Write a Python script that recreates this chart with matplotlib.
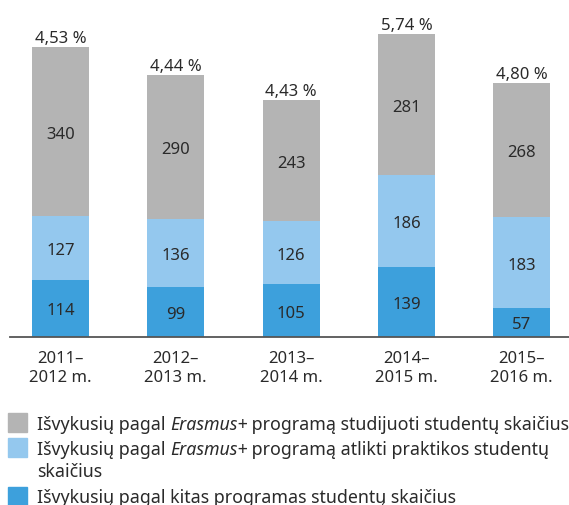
import matplotlib
matplotlib.use("Agg")
import matplotlib.pyplot as plt
from matplotlib.patches import Rectangle
import numpy as np

plt.rcParams['font.family'] = ['Noto Sans', 'DejaVu Sans']

categories = ["2011–\n2012 m.", "2012–\n2013 m.", "2013–\n2014 m.", "2014–\n2015 m.", "2015–\n2016 m."]
other_programs = [114, 99, 105, 139, 57]
erasmus_practice = [127, 136, 126, 186, 183]
erasmus_study = [340, 290, 243, 281, 268]
share_labels = ["4,53 %", "4,44 %", "4,43 %", "5,74 %", "4,80 %"]

legend_rows = [
    [("Išvykusių pagal ", "normal"), ("Erasmus+", "italic"), (" programą studijuoti studentų skaičius", "normal")],
    [("Išvykusių pagal ", "normal"), ("Erasmus+", "italic"), (" programą atlikti praktikos studentų", "normal")],
    [("skaičius", "normal")],
    [("Išvykusių pagal kitas programas studentų skaičius", "normal")],
]

c_blue = "#3da0dc"
c_light = "#94c8ee"
c_gray = "#b4b4b4"
c_text = "#2a2a2a"

W, H = 569, 506
fig = plt.figure(figsize=(W / 100, H / 100), dpi=100)
base_px = 337.7
ax = fig.add_axes([10 / W, (H - base_px) / H, 1 - 10 / W, base_px / H])

x = np.arange(len(categories))
bw = 0.494
b1 = np.array(other_programs)
b2 = np.array(erasmus_practice)
b3 = np.array(erasmus_study)

ax.bar(x, b1, bw, color=c_blue, zorder=2)
ax.bar(x, b2, bw, bottom=b1, color=c_light, zorder=2)
ax.bar(x, b3, bw, bottom=b1 + b2, color=c_gray, zorder=2)

fs = 12
for i in range(len(x)):
    for bottom, val in [(0, b1[i]), (b1[i], b2[i]), (b1[i] + b2[i], b3[i])]:
        ax.text(x[i], bottom + val / 2, str(val), ha="center", va="center_baseline",
                fontsize=fs, color=c_text, zorder=3)
    ax.annotate(share_labels[i], (x[i], b1[i] + b2[i] + b3[i]), xytext=(0, 3.6),
                textcoords="offset points", ha="center", va="baseline",
                fontsize=fs, color=c_text)

ax.set_xlim(-0.438, 4.41)
ax.set_ylim(0, 677)
for s in ["top", "right", "left"]:
    ax.spines[s].set_visible(False)
ax.spines["bottom"].set_color("#555555")
ax.spines["bottom"].set_linewidth(1.3)
ax.set_yticks([])
ax.set_xticks(x)
ax.set_xticklabels(categories, fontsize=fs, color=c_text, linespacing=1.2)
ax.tick_params(axis="x", length=0, pad=9.8)
ax.patch.set_alpha(0)

# legend
sq = 18.5
squares = [(414, c_gray), (439.3, c_light), (488.3, c_blue)]
for ytop, col in squares:
    fig.patches.append(Rectangle((8.3 / W, (H - ytop - sq) / H), sq / W, sq / H,
                                 transform=fig.transFigure, color=col, figure=fig))

lfs = 12.8
baselines = [430, 455, 477.5, 503]
renderer = fig.canvas.get_renderer()
for row, yb in zip(legend_rows, baselines):
    xp = 36.7
    for txt, style in row:
        t = fig.text(xp / W, (H - yb) / H, txt, fontsize=lfs, style=style,
                     color=c_text, ha="left", va="baseline")
        bb = t.get_window_extent(renderer=renderer)
        xp += bb.width

fig.savefig("out.png", dpi=100)
